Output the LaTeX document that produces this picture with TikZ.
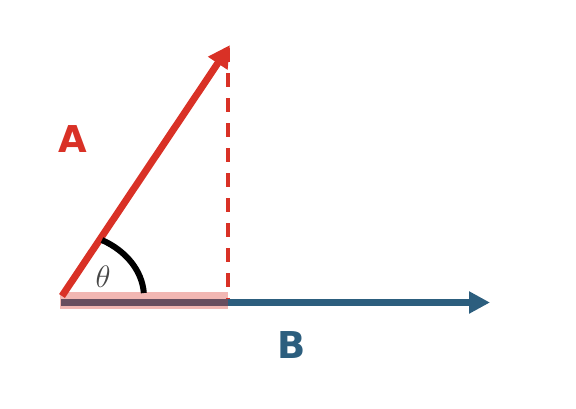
\documentclass[tikz,border=0pt]{standalone}
\usepackage{fix-cm}
\usepackage{fontspec}
\newfontfamily\labfont{DejaVu Sans}
\usetikzlibrary{arrows.meta}
\definecolor{vred}{HTML}{D93126}
\definecolor{vblue}{HTML}{2C5E7E}
\tikzset{
  vec/.style={line width=7pt, -{Triangle[length=22pt,width=22pt]}},
  lab/.style={font=\labfont\bfseries\fontsize{37}{37}\selectfont, inner sep=0pt},
}
\begin{document}
\begin{tikzpicture}[x=1pt,y=-1pt]
\useasboundingbox (0,0) rectangle (576,408);
\coordinate (O) at (62,296);
\coordinate (Atip) at (230,45);
\coordinate (Bstart) at (61,302.5);
\coordinate (Btip) at (490,302.5);
\coordinate (Dtop) at (228,48);
\coordinate (Dbot) at (228,303);
\coordinate (AC) at (61,297);
% dashed projection
\draw[vred, line width=4.5pt, dash pattern=on 14.3pt off 10.7pt] (Dtop) -- (Dbot);
% vector B
\draw[vblue, vec, -{Triangle[length=21pt,width=21pt]}] (Bstart) -- (Btip);
% projection band
\fill[vred, opacity=0.35] (60,292.3) rectangle (227.7,308.7);
% vector A
\draw[vred, vec] (O) -- (Atip);
% angle arc
\draw[black, line width=6pt] (AC) ++(-60.4:83 and 65.5) arc[start angle=-60.4, end angle=-3.5, x radius=83, y radius=65.5];
\node[text=black!72, inner sep=0pt, font=\fontsize{31}{31}\selectfont] (th) at (103,277) {$\theta$};
% labels
\node[lab, text=vred] (la) at (73,139) {A};
\node[lab, text=vblue] (lb) at (292,345) {B};
\end{tikzpicture}
\end{document}
